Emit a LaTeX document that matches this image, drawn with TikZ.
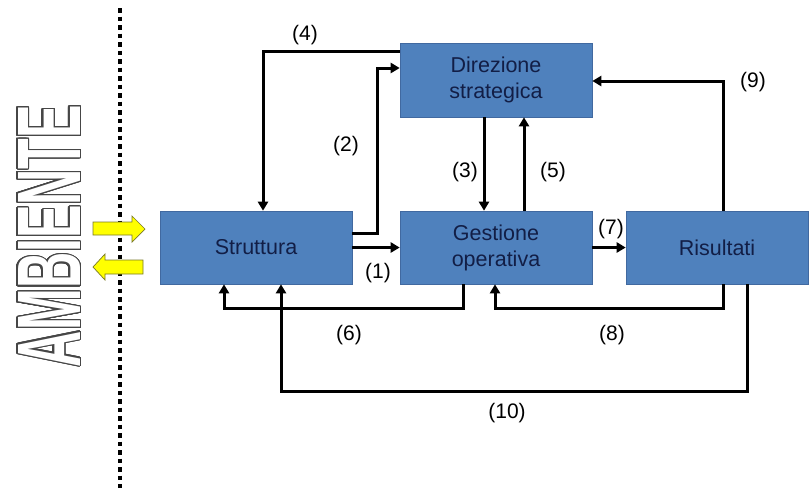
\documentclass[tikz,border=0pt]{standalone}
\usepackage{fontspec}
\setmainfont{Liberation Sans}
\usepackage{contour}
\contourlength{1.8pt}
\contournumber{32}
\usetikzlibrary{arrows.meta,calc}
\definecolor{boxblue}{RGB}{79,129,189}
\definecolor{boxedge}{RGB}{65,105,160}
\definecolor{navy}{RGB}{18,30,70}
\definecolor{yel}{RGB}{255,255,0}
\definecolor{yeledge}{RGB}{120,120,40}
\definecolor{outl}{RGB}{70,70,70}
\tikzset{
  blockbox/.style={draw=boxedge,line width=0.6pt,fill=boxblue,text=navy,
    minimum width=192pt,minimum height=73pt,inner sep=0pt,align=center,
    font=\fontsize{21.5}{26}\selectfont},
  arr/.style={line width=3pt,-{Triangle[length=9pt,width=10pt]}},
  lab/.style={font=\fontsize{21}{24}\selectfont,text=black,inner sep=0pt},
  yarrow/.style={fill=yel,draw=yeledge,line width=0.7pt,line join=miter}
}
\begin{document}
\begin{tikzpicture}[x=1pt,y=-1pt]
\useasboundingbox (0,0) rectangle (810,488);
% dotted boundary
\draw[line width=4.5pt,dash pattern=on 4.5pt off 4pt] (120,8) -- (120,488);
% AMBIENTE
\node[inner sep=0pt,rotate=90] (amb) at (50,236) {\resizebox{262pt}{62pt}{\fontsize{86}{86}\selectfont\bfseries\contour{outl}{\textcolor{white}{AMBIENTE}}}};
% yellow arrows
\draw[yarrow] (93,222) -- (132,222) -- (132,216) -- (145,229) -- (132,242) -- (132,235) -- (93,235) -- cycle;
\draw[yarrow] (143,260) -- (105,260) -- (105,254) -- (93,267) -- (105,280) -- (105,274) -- (143,274) -- cycle;
% boxes
\node[blockbox,minimum height=74pt] (dir) at (496,80) {Direzione\\strategica};
\node[blockbox] (ges) at (496,247.5) {Gestione\\operativa};
\node[blockbox] (str) at (256,247.5) {Struttura};
\node[blockbox,minimum width=182pt] (ris) at (717,247.5) {Risultati};
% connectors
\draw[arr] (str.east) -- (ges.west);
\draw[arr] ($(str.east)+(0,-14.5)$) -- (377,233) -- (377,68) -- (dir.west |- 0,68);
\draw[arr] (dir.west |- 0,51) -| (str.north -| 263,0);
\draw[arr] (dir.south -| 484,0) -- (ges.north -| 484,0);
\draw[arr] (ges.north -| 524,0) -- (dir.south -| 524,0);
\draw[arr] (ges.east) -- (ris.west);
\draw[arr] (ris.north -| 723,0) |- (dir.east |- 0,81);
\draw[arr] (ris.south -| 723,0) -- (723,308) -| (ges.south -| 495,0);
\draw[arr] (ges.south -| 463,0) -- (463,308) -| (str.south -| 224,0);
\draw[arr] (ris.south -| 747,0) -- (747,391) -| (str.south -| 281,0);
% labels
\node[lab] (l1) at (378,273) {(1)};
\node[lab] (l2) at (346,146) {(2)};
\node[lab] (l3) at (465,172) {(3)};
\node[lab] (l4) at (305,35) {(4)};
\node[lab] (l5) at (553,172) {(5)};
\node[lab] (l6) at (349,335) {(6)};
\node[lab] (l7) at (611,229) {(7)};
\node[lab] (l8) at (612,335) {(8)};
\node[lab] (l9) at (753,82) {(9)};
\node[lab] (l10) at (507,413) {(10)};
\end{tikzpicture}
\end{document}
